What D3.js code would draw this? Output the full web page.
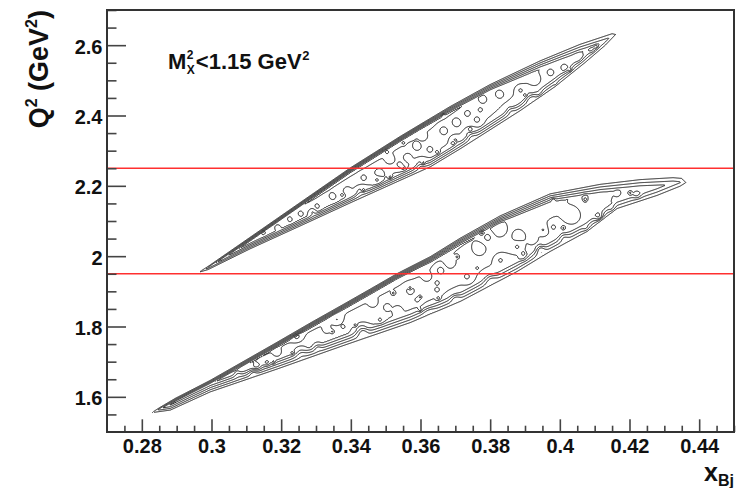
<!DOCTYPE html>
<html>
<head>
<meta charset="utf-8">
<script src="https://cdn.jsdelivr.net/npm/d3@7"></script>
<style>
  body { margin: 0; background: #fff; }
  svg { display: block; font-family: "Liberation Sans", Arial, sans-serif; font-weight: bold; }
</style>
</head>
<body>
<svg id="chart" width="738" height="488"></svg>
<script>
// ---- axis ticks ----
const xMajorTicks = [0.28, 0.30, 0.32, 0.34, 0.36, 0.38, 0.40, 0.42, 0.44];
const xTickLabels = ["0.28", "0.3", "0.32", "0.34", "0.36", "0.38", "0.4", "0.42", "0.44"];
const yMajorTicks = [1.6, 1.8, 2.0, 2.2, 2.4, 2.6];
const yTickLabels = ["1.6", "1.8", "2", "2.2", "2.4", "2.6"];

// ---- Q^2 bin boundaries ----
const q2Cuts = [1.95, 2.25];

// ---- acceptance band edges, [x_Bj, Q^2] ----
const upperBandTop = [[0.2955,1.950],[0.2990,1.972],[0.3111,2.055],[0.3255,2.154],[0.3398,2.252],[0.3542,2.342],
  [0.3685,2.427],[0.3800,2.490],[0.3943,2.558],[0.4058,2.606],[0.4150,2.637],[0.4164,2.634]];
const upperBandBottom = [[0.2955,1.950],[0.2990,1.960],[0.3111,2.019],[0.3255,2.084],[0.3398,2.149],[0.3542,2.213],
  [0.3628,2.251],[0.3714,2.302],[0.3800,2.356],[0.3886,2.410],[0.3986,2.478],[0.4072,2.546],
  [0.4130,2.595],[0.4164,2.630]];
const lowerBandTop = [[0.2822,1.552],[0.2850,1.570],[0.2896,1.597],[0.2996,1.648],[0.3097,1.705],[0.3189,1.757],
  [0.3283,1.811],[0.3378,1.864],[0.3456,1.908],[0.3533,1.952],[0.3628,2.000],[0.3714,2.053],
  [0.3829,2.117],[0.3972,2.180],[0.4116,2.208],[0.4230,2.222],[0.4325,2.228],[0.4350,2.226],[0.4368,2.208]];
const lowerBandBottom = [[0.2822,1.552],[0.2882,1.560],[0.2996,1.611],[0.3189,1.676],[0.3378,1.742],
  [0.3570,1.807],[0.3714,1.867],[0.3877,1.952],[0.3972,2.009],[0.4078,2.066],[0.4164,2.131],
  [0.4279,2.168],[0.4345,2.194],[0.4368,2.208]];

// ---- density profile along each band:
//      [x_Bj, level at bottom of interior, rise per level at top edge, at bottom edge (Q^2), extra level toward top] ----
const upperBandProfile = [[0.296,4,0.0025,0.0035,1.0],[0.33,4,0.0026,0.0045,2.0],[0.36,4,0.0028,0.0060,2.0],
  [0.38,4,0.0038,0.0070,1.6],[0.40,3.6,0.0065,0.0080,0.8],[0.416,2.6,0.0090,0.0090,0]];
const lowerBandProfile = [[0.283,4,0.0026,0.0043,1.0],[0.30,4,0.0028,0.0060,2.0],[0.36,4,0.0030,0.0080,2.0],
  [0.38,4,0.0042,0.0085,1.6],[0.40,4,0.0060,0.0085,0.8],[0.42,3.2,0.0085,0.0090,0],[0.437,2.2,0.0100,0.0100,0]];

// ---- local fluctuations inside the bands: [x_Bj, Q^2, amplitude, spread in x_Bj] ----
const upperBandSpots = [[0.3349,2.168,1.1,0.0008],[0.3389,2.188,-1.1,0.0008],[0.3476,2.2167,1.1,0.0009],
  [0.3436,2.225,-1.0,0.0007],[0.3513,2.2735,1.1,0.0009],[0.3562,2.282,-1.1,0.0009],[0.3591,2.3105,1.1,0.0008],
  [0.3608,2.339,1.0,0.0007],[0.3665,2.3588,-1.1,0.0010],[0.3705,2.378,1.1,0.0009],[0.3734,2.407,-1.1,0.0008],
  [0.3763,2.387,1.1,0.0010],[0.3780,2.444,1.0,0.0007],[0.3226,2.103,1.0,0.0006],[0.3255,2.123,-1.0,0.0006],
  [0.3304,2.140,1.0,0.0007],[0.3189,2.083,-1.0,0.0006],[0.3149,2.066,1.0,0.0005],[0.3829,2.4583,1.1,0.0010],
  [0.3886,2.4725,-1.1,0.0009],[0.3929,2.501,1.1,0.0010],[0.3972,2.5237,-1.1,0.0009],[0.4015,2.535,1.1,0.0010],
  [0.4053,2.5635,1.0,0.0008],[0.4093,2.5863,1.0,0.0006],[0.3857,2.4157,-1.1,0.0010],[0.3943,2.458,1.1,0.0009],
  [0.3628,2.302,1.1,0.0010],[0.3542,2.259,1.1,0.0009],[0.3699,2.330,-1.1,0.0009],
  [0.3375,2.174,1.6,0.00035],[0.3436,2.188,1.6,0.00035],[0.3513,2.225,1.6,0.00035],[0.3551,2.251,1.6,0.0004],
  [0.3608,2.265,1.6,0.00035],[0.3648,2.296,1.6,0.0004],[0.3694,2.322,1.6,0.00035],[0.3743,2.359,1.6,0.00035],
  [0.3772,2.416,1.6,0.0004],[0.3665,2.401,1.6,0.00035],[0.3551,2.322,1.6,0.00035],[0.3504,2.296,1.6,0.0004],
  [0.4104,2.595,1.6,0.0004],[0.3900,2.458,1.6,0.00035],[0.3991,2.487,1.6,0.0004],[0.4030,2.529,1.6,0.00035],
  [0.3427,2.183,-1.3,0.0012],[0.3599,2.259,-1.3,0.0012],[0.3743,2.345,-1.3,0.0012],[0.3915,2.450,-1.3,0.0012],
  [0.3290,2.125,-1.2,0.0008],[0.3480,2.238,-1.2,0.0009]];
const lowerBandSpots = [[0.4038,2.114,1.1,0.0017],[0.4113,2.1115,2.2,0.0009],[0.4153,2.131,1.1,0.0008],
  [0.4165,2.180,1.0,0.0005],[0.4222,2.174,1.1,0.0008],[0.4073,2.168,1.0,0.0006],[0.3981,2.083,-1.1,0.0009],
  [0.3952,2.0745,1.1,0.0010],[0.3878,2.060,-1.1,0.0011],[0.4078,2.0745,1.1,0.0008],[0.3829,2.0745,1.1,0.0016],
  [0.3792,2.0546,-1.1,0.0011],[0.3923,2.046,1.1,0.0008],[0.3878,2.026,1.1,0.0011],[0.3944,2.023,-1.1,0.0008],
  [0.3771,2.0176,1.1,0.0014],[0.3829,1.989,-1.1,0.0011],[0.3895,1.998,1.1,0.0008],[0.3685,1.9807,1.1,0.0011],
  [0.3657,1.961,-1.1,0.0011],[0.3734,1.941,1.1,0.0011],[0.3619,1.941,1.1,0.0008],[0.3570,1.904,-1.1,0.0011],
  [0.3464,1.867,1.1,0.0008],[0.3504,1.856,-1.1,0.0008],[0.3361,1.8186,1.1,0.0011],[0.3436,1.790,-1.1,0.0011],
  [0.3484,1.8186,1.1,0.0008],[0.3332,1.790,1.1,0.0008],[0.3591,1.8755,1.1,0.0008],[0.3648,1.904,1.1,0.0008],
  [0.3533,1.847,-1.1,0.0008],[0.3246,1.770,1.1,0.0011],[0.3304,1.742,-1.1,0.0008],[0.3131,1.685,1.1,0.0008],
  [0.3074,1.668,-1.1,0.0008],[0.3189,1.725,1.1,0.0008],[0.3160,1.696,1.0,0.0006],
  [0.4202,2.180,1.6,0.00035],[0.3981,2.160,1.6,0.00035],[0.4073,2.160,1.6,0.0004],[0.4010,2.080,1.6,0.00035],
  [0.3895,2.009,1.6,0.00035],[0.3777,2.066,1.6,0.0004],[0.3705,1.998,1.6,0.00035],[0.3763,1.966,1.6,0.00035],
  [0.3648,1.924,1.6,0.0004],[0.3599,1.884,1.6,0.00035],[0.3178,1.699,1.6,0.00035],[0.3232,1.725,1.6,0.00035],
  [0.3347,1.785,1.6,0.0004],[0.3378,1.799,1.6,0.00035],[0.3413,1.804,1.6,0.00035],[0.3599,1.847,1.6,0.00035],
  [0.3651,1.881,1.6,0.0004],[0.3570,1.910,1.6,0.00035],[0.3522,1.895,1.6,0.00035],
  [0.3255,1.728,-1.3,0.0012],[0.3427,1.787,-1.3,0.0013],[0.3628,1.833,-1.3,0.0013],[0.3800,1.935,-1.3,0.0013],
  [0.3943,2.015,-1.3,0.0012],[0.3120,1.666,-1.2,0.0009],[0.3700,1.880,-1.2,0.0010],[0.4010,2.055,-1.2,0.0010]];

const contourLevels = [0.5, 1.5, 2.5, 3.5, 4.5, 5.5, 6.5];

// ---- layout ----
const plotLeft = 107, plotRight = 734, plotTop = 10, plotBottom = 432;
const svg = d3.select("#chart");
const x = d3.scaleLinear().domain([0.27, 0.45]).range([plotLeft, plotRight]);
const y = d3.scaleLinear().domain([1.5, 2.7]).range([plotBottom, plotTop]);

svg.append("rect").attr("width", 738).attr("height", 488).attr("fill", "#fff");

// ---- density grid sampled at pixel centres ----
const nx = plotRight - plotLeft, ny = plotBottom - plotTop;
const field = new Float64Array(nx * ny).fill(-1);
const depth = new Float64Array(nx * ny).fill(-1);
const pxPerQ2 = Math.abs(y(1) - y(0));

function edgeFn(pts) {
  return d3.scaleLinear().domain(pts.map(d => d[0])).range(pts.map(d => d[1]));
}
function profFn(prof, k) {
  return d3.scaleLinear().domain(prof.map(d => d[0])).range(prof.map(d => d[k])).clamp(true);
}

function addBand(topEdge, botEdge, profile, spots) {
  const tF = edgeFn(topEdge), bF = edgeFn(botEdge);
  const plateau = profFn(profile, 1), riseT = profFn(profile, 2), riseB = profFn(profile, 3), tilt = profFn(profile, 4);
  const x0 = Math.max(topEdge[0][0], botEdge[0][0]);
  const x1 = Math.min(topEdge[topEdge.length - 1][0], botEdge[botEdge.length - 1][0]);
  for (let gx = 0; gx < nx; gx++) {
    const xv = x.invert(plotLeft + gx + 0.5);
    if (xv < x0 || xv > x1) continue;
    const yT = y(tF(xv)), yB = y(bF(xv));
    const H = Math.max(1e-6, yB - yT);
    const B = plateau(xv), C = tilt(xv), sT = riseT(xv) * pxPerQ2, sB = riseB(xv) * pxPerQ2;
    const g0 = Math.max(0, Math.floor(yT - plotTop - 6));
    const g1 = Math.min(ny - 1, Math.ceil(yB - plotTop + 6));
    for (let gy = g0; gy <= g1; gy++) {
      const py = plotTop + gy + 0.5;
      const dT = py - yT, dB = yB - py;
      const core = B + C * Math.max(0, Math.min(1, dB / H));
      const v = Math.min(dT / sT, dB / sB, core);
      const i = gy * nx + gx;
      if (v > field[i]) { field[i] = Math.max(v, -1); depth[i] = Math.min(dT, dB); }
    }
  }
  spots.forEach(([sx, sy, amp, spread]) => {
    const cx = x(sx) - plotLeft, cy = y(sy) - plotTop;
    const sg = x(sx + spread) - x(sx);
    const R = Math.ceil(3 * sg) + 1;
    for (let gy = Math.max(0, Math.floor(cy - R)); gy <= Math.min(ny - 1, Math.ceil(cy + R)); gy++) {
      for (let gx = Math.max(0, Math.floor(cx - R)); gx <= Math.min(nx - 1, Math.ceil(cx + R)); gx++) {
        const i = gy * nx + gx;
        const att = Math.max(0, Math.min(1, (depth[i] - 1.5) / 4));
        if (att <= 0) continue;
        const dx = gx + 0.5 - cx, dy = gy + 0.5 - cy;
        field[i] += amp * Math.exp(-(dx * dx + dy * dy) / (2 * sg * sg)) * att;
      }
    }
  });
}

addBand(upperBandTop, upperBandBottom, upperBandProfile, upperBandSpots);
addBand(lowerBandTop, lowerBandBottom, lowerBandProfile, lowerBandSpots);

const contours = d3.contours().size([nx, ny]).thresholds(contourLevels)(Array.from(field));
const gridToPlot = d3.geoTransform({
  point(gx, gy) {
    const xv = x.invert(plotLeft + gx), yv = y.invert(plotTop + gy);
    this.stream.point(x(xv), y(yv));
  }
});
const path = d3.geoPath(gridToPlot);

svg.append("g")
  .selectAll("path")
  .data(contours)
  .join("path")
  .attr("d", path)
  .attr("fill", "none")
  .attr("stroke", "#1a1a1a")
  .attr("stroke-width", 1.0)
  .attr("stroke-linejoin", "round");

// ---- Q^2 bin boundaries ----
svg.append("g")
  .selectAll("line")
  .data(q2Cuts)
  .join("line")
  .attr("x1", plotLeft).attr("x2", plotRight)
  .attr("y1", d => y(d)).attr("y2", d => y(d))
  .attr("stroke", "#ff3030")
  .attr("stroke-width", 1.7);

// ---- axes (ticks point into the frame) ----
const tickColor = "#444";
const xMinor = d3.range(0.275, 0.4501, 0.005).filter(v => !xMajorTicks.some(t => Math.abs(t - v) < 1e-6));
const yMinor = d3.range(1.55, 2.7001, 0.05).filter(v => !yMajorTicks.some(t => Math.abs(t - v) < 1e-6));

const xAxisMinor = svg.append("g").attr("transform", `translate(0,${plotBottom})`)
  .call(d3.axisBottom(x).tickValues(xMinor).tickSizeInner(-6.3).tickSizeOuter(0).tickFormat(""));
const xAxis = svg.append("g").attr("transform", `translate(0,${plotBottom})`)
  .call(d3.axisBottom(x).tickValues(xMajorTicks).tickSizeInner(-12.7).tickSizeOuter(0)
    .tickPadding(7).tickFormat((d, i) => xTickLabels[i]));
const yAxisMinor = svg.append("g").attr("transform", `translate(${plotLeft},0)`)
  .call(d3.axisLeft(y).tickValues(yMinor).tickSizeInner(-9.5).tickSizeOuter(0).tickFormat(""));
const yAxis = svg.append("g").attr("transform", `translate(${plotLeft},0)`)
  .call(d3.axisLeft(y).tickValues(yMajorTicks).tickSizeInner(-19).tickSizeOuter(0)
    .tickPadding(4.5).tickFormat((d, i) => yTickLabels[i]));

[xAxisMinor, xAxis, yAxisMinor, yAxis].forEach(g => {
  g.select(".domain").remove();
  g.selectAll(".tick line").attr("stroke", tickColor).attr("stroke-width", 1.6);
  g.selectAll("text").attr("fill", "#111").attr("font-size", 20)
    .attr("font-family", "'Liberation Sans', Arial, sans-serif").attr("font-weight", "bold");
});
yAxis.selectAll("text").attr("dy", "0.4em");

// ---- frame ----
svg.append("rect")
  .attr("x", plotLeft).attr("y", plotTop)
  .attr("width", plotRight - plotLeft).attr("height", plotBottom - plotTop)
  .attr("fill", "none").attr("stroke", "#333").attr("stroke-width", 2);

// ---- axis titles ----
const xt = svg.append("text").attr("x", plotRight).attr("y", 481)
  .attr("text-anchor", "end").attr("fill", "#111");
xt.append("tspan").attr("font-size", 25).text("x");
xt.append("tspan").attr("font-size", 16).attr("dy", 5).text("Bj");

const yt = svg.append("text").attr("transform", `translate(48,${plotTop}) rotate(-90)`)
  .attr("text-anchor", "end").attr("fill", "#111").attr("font-size", 27);
yt.append("tspan").text("Q");
yt.append("tspan").attr("font-size", 16).attr("dy", -11).text("2");
yt.append("tspan").attr("dy", 11).text(" (GeV");
yt.append("tspan").attr("font-size", 16).attr("dy", -11).text("2");
yt.append("tspan").attr("dy", 11).text(")");

// ---- missing-mass cut label ----
const annX = 168, annY = 69;
const ann = svg.append("g").attr("fill", "#111");
const mT = ann.append("text").attr("x", annX).attr("y", annY).attr("font-size", 22).text("M");
const mW = mT.node().getComputedTextLength();
const supT = ann.append("text").attr("x", annX + mW + 0.5).attr("y", annY - 10).attr("font-size", 12).text("2");
const subT = ann.append("text").attr("x", annX + mW + 0.5).attr("y", annY + 5).attr("font-size", 12).text("X");
const sW = Math.max(supT.node().getComputedTextLength(), subT.node().getComputedTextLength());
const restT = ann.append("text").attr("x", annX + mW + sW + 1.5).attr("y", annY).attr("font-size", 22).text("<1.15 GeV");
const rW = restT.node().getComputedTextLength();
ann.append("text").attr("x", annX + mW + sW + 1.5 + rW + 0.5).attr("y", annY - 9).attr("font-size", 13).text("2");
</script>
</body>
</html>
